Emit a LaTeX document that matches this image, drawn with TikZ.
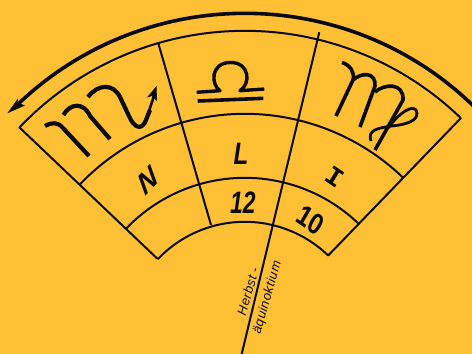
\documentclass[tikz,border=0pt]{standalone}
\usepackage{fontspec}
\setmainfont{Liberation Sans}
\newfontfamily\slabfont{Liberation Mono}
\usetikzlibrary{arrows.meta,calc}
\definecolor{bgc}{HTML}{FFC036}
\definecolor{ink}{HTML}{0A0A0A}
\tikzset{
  x=1pt,y=-1pt,
  ring/.style={draw=ink,line width=2pt},
  radial/.style={draw=ink,line width=2pt},
  glyph/.style={draw=ink,line width=4.2pt,line cap=butt,line join=round},
  biglabel/.style={font=\bfseries\itshape\fontsize{31}{31}\selectfont,text=ink,inner sep=0pt,xscale=.74},
  smalllabel/.style={font=\itshape\fontsize{13}{13}\selectfont\addfontfeature{LetterSpace=4},text=ink,inner sep=0pt},
}
\begin{document}
\begin{tikzpicture}
\path[fill=bgc] (0,0) rectangle (472,354);
\useasboundingbox (0,0) rectangle (472,354);
\coordinate (c) at (244.8,341.8);
\coordinate (A) at (19,127);
\coordinate (B) at (461,118);
\coordinate (C) at (157.7,259);
\coordinate (D) at (328,255.7);
\draw[ring,line join=miter] (C) -- (A);
\draw[ring] (D) -- (B);
\foreach \r/\a/\b in {311/136.4/46, 228/136.4/46, 164/136.4/46, 120/136.4/46}{
  \draw[ring] ($(c)+({\r*cos(\a)},{-\r*sin(\a)})$) arc[start angle=-\a,end angle=-\b,radius=\r];
}
\coordinate (d1a) at (158.3,43.3);
\coordinate (d1b) at (211,225);
\coordinate (d2a) at (319.3,32.3);
\coordinate (d2b) at (241.7,354);
\draw[radial] (d1a) -- (d1b);
\draw[radial] (d2a) -- (d2b);
% big arrow
\coordinate (arrowstart) at ($(c)+({328.5*cos(45)},{-328.5*sin(45)})$);
\draw[draw=ink,line width=3.6pt] (arrowstart) arc[start angle=-45,end angle=-133.5,radius=328.5] coordinate (arrowend);
\fill[ink] (7.3,113.3) -- (18,98.5) -- (17.5,102.5) -- (25,105.5) -- cycle;
% Scorpio
\draw[glyph] (45,126) .. controls (52,122) and (58,122) .. (63,128) -- (89,156);
\draw[glyph] (63.5,115) .. controls (70,103) and (84,102) .. (90,116) -- (110,139);
\draw[glyph] (88,97) .. controls (98,84) and (113,83) .. (120,97) -- (129,116) .. controls (134,128) and (142,131) .. (146,120) -- (150,110);
\draw[draw=ink,line width=2.6pt] (147,117) -- (154,96);
\fill[ink] (156.5,86) -- (157,101) -- (152,96) -- (147,97.5) -- cycle;
% Libra
\draw[glyph,line width=3.4pt] (196.7,92.3) -- (220,90.7) .. controls (211,85) and (210,63) .. (230,62.5) .. controls (250,62) and (251,84) .. (240,90.7) -- (264.3,89);
\draw[glyph,line width=3.6pt] (197.7,101) -- (263.3,98.3);
% Virgo
\draw[glyph,line width=3.6pt] (342,62.5) .. controls (350,65) and (355,72) .. (353,80) -- (336,116);
\draw[glyph,line width=3.6pt] (353,80) .. controls (362,72) and (376,72) .. (375,86) -- (360,127);
\draw[glyph,line width=3.6pt] (375,92) .. controls (384,84) and (404,82) .. (403,100) -- (375,150);
\draw[glyph,line width=2.8pt] (371,141) .. controls (367,130) and (378,128) .. (392,126) .. controls (412,124) and (420,118) .. (416,110) .. controls (412,105) and (400,112) .. (388,128);
% letters
\node[biglabel,rotate=38,xscale=1.1] (N) at (148,181) {N};
\node[biglabel,xscale=1.05] (L) at (241,154) {L};
\node[biglabel,rotate=-27,xscale=1.2,font=\slabfont\bfseries\itshape\fontsize{29}{29}\selectfont] (I) at (335,177) {I};
\node[biglabel] (n12) at (243,203) {12};
\node[biglabel,rotate=-27] (n10) at (310,220) {10};
\node[smalllabel,rotate=74] (h1) at (248,291.5) {Herbst -};
\node[smalllabel,rotate=74] (h2) at (267.5,297.5) {äquinoktium};
\end{tikzpicture}
\end{document}
